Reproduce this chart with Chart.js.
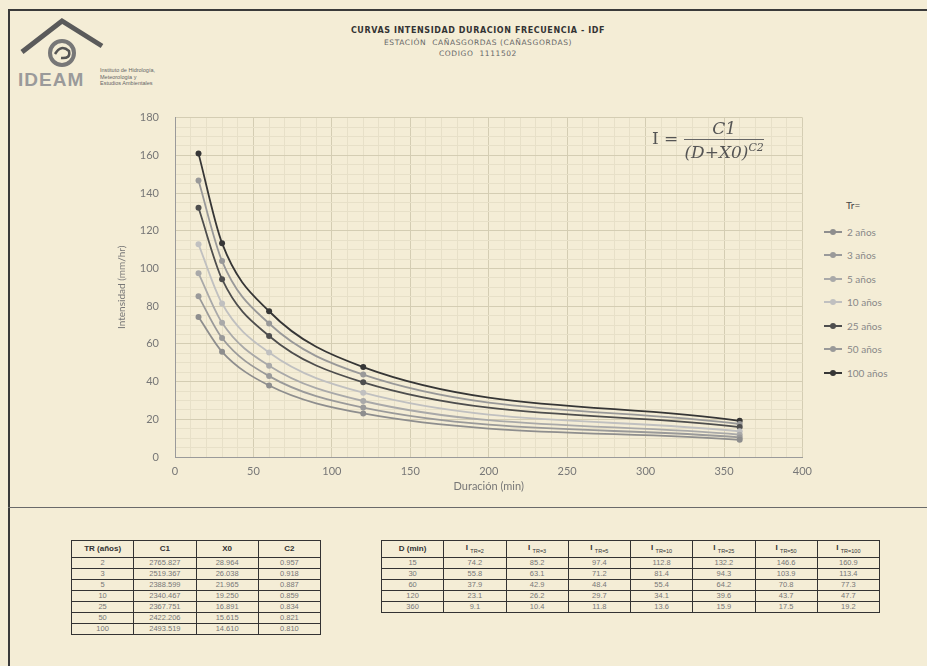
<!DOCTYPE html>
<html>
<head>
<meta charset="utf-8">
<script src="https://cdn.jsdelivr.net/npm/chart.js@4.4.1/dist/chart.umd.min.js"></script>
<style>
  body { margin: 0; width: 927px; height: 666px; background: #f4edd6; position: relative; overflow: hidden; font-family: "Liberation Sans", Arial, sans-serif; }
  .frame { position: absolute; left: 8px; top: 9px; width: 930px; height: 670px; border: 2px solid #3a3a3a; }
  .hline { position: absolute; left: 8px; top: 507px; width: 927px; height: 0; border-top: 1px solid #6a6a6a; }
  .title { position: absolute; left: 278px; width: 400px; text-align: center; color: #666; font-family: "DejaVu Sans", sans-serif; font-size: 7.5px; line-height: 11.5px; top: 25px; letter-spacing: 0.6px; }
  .title b { color: #333; font-size: 8px; }
  #chartBox { position: absolute; left: 100px; top: 95px; width: 720px; height: 415px; }
  .eq { position: absolute; left: 652px; top: 118px; font-family: "DejaVu Serif", serif; color: #555; font-size: 17px; }
  .eq .frac { display: inline-block; vertical-align: middle; text-align: center; margin-left: 6px; }
  .eq .num { display: block; border-bottom: 1px solid #666; padding: 0 8px 1px; font-style: italic; }
  .eq .den { display: block; font-style: italic; padding-top: 1px; }
  .legend { position: absolute; left: 824px; top: 196px; font-family: Lato, sans-serif; font-size: 10px; color: #888; }
  .legend .hd { color: #444; margin-left: 22px; height: 24px; line-height: 18px; }
  .legend .it { height: 23.5px; display: flex; align-items: center; }
  .legend .mk { position: relative; width: 18px; height: 8px; margin-right: 5px; }
  .legend .mk i { position: absolute; left: 0; top: 3px; width: 18px; height: 2px; }
  .legend .mk b { position: absolute; left: 6px; top: 1px; width: 6px; height: 6px; border-radius: 50%; }
  table { position: absolute; border-collapse: collapse; table-layout: fixed; font-size: 7.5px; color: #777; }
  td, th { border: 1px solid #333; text-align: center; padding: 0; height: 10px; line-height: 10px; }
  th { height: 16px; color: #333; font-weight: bold; font-size: 8px; }
  th sub { font-size: 5.5px; font-weight: normal; }
  #t1 { left: 71px; top: 540px; width: 250px; }
  #t2 { left: 381px; top: 540px; width: 499px; }
  .logo { position: absolute; left: 0; top: 12px; }
</style>
</head>
<body>
<div class="frame"></div>
<div class="hline"></div>

<svg class="logo" width="240" height="90">
  <path d="M22 40 L62 9 L102 34" fill="none" stroke="#5a5a5a" stroke-width="5"/>
  <circle cx="62" cy="41" r="12" fill="none" stroke="#777" stroke-width="4"/>
  <path d="M55 42 q6 -10 14 -3 q2 8 -8 7" fill="none" stroke="#555" stroke-width="2.5"/>
  <text x="18" y="74" font-family="Liberation Sans, Arial" font-size="19" fill="#9a9a9a" font-weight="bold" letter-spacing="1">IDEAM</text>
  <text x="100" y="60" font-family="Liberation Sans" font-size="5.5" fill="#666">Instituto de Hidrología,</text>
  <text x="100" y="66.5" font-family="Liberation Sans" font-size="5.5" fill="#666">Meteorología y</text>
  <text x="100" y="73" font-family="Liberation Sans" font-size="5.5" fill="#666">Estudios Ambientales</text>
</svg>

<div class="title">
  <b>CURVAS INTENSIDAD DURACION FRECUENCIA - IDF</b><br>
  ESTACIÓN&nbsp; CAÑASGORDAS (CAÑASGORDAS)<br>
  CODIGO&nbsp; 1111502
</div>

<div id="chartBox"><canvas id="idfChart" width="720" height="415"></canvas></div>

<div class="eq">I =<span class="frac"><span class="num">C1</span><span class="den">(D+X0)<sup style="font-size:11px">C2</sup></span></span></div>

<div class="legend" id="legend"></div>

<table id="t1"></table>
<table id="t2"></table>

<script>
// duraciones (min)
const durations = [15, 30, 60, 120, 360];
const returnPeriods = [2, 3, 5, 10, 25, 50, 100];

// intensidades (mm/hr) por periodo de retorno
const tr2 = [74.2, 55.8, 37.9, 23.1, 9.1];
const tr3 = [85.2, 63.1, 42.9, 26.2, 10.4];
const tr5 = [97.4, 71.2, 48.4, 29.7, 11.8];
const tr10 = [112.8, 81.4, 55.4, 34.1, 13.6];
const tr25 = [132.2, 94.3, 64.2, 39.6, 15.9];
const tr50 = [146.6, 103.9, 70.8, 43.7, 17.5];
const tr100 = [160.9, 113.4, 77.3, 47.7, 19.2];

// parametros de la ecuacion
const c1 = ["2765.827", "2519.367", "2388.599", "2340.467", "2367.751", "2422.206", "2493.519"];
const x0 = ["28.964", "26.038", "21.965", "19.250", "16.891", "15.615", "14.610"];
const c2 = ["0.957", "0.918", "0.887", "0.859", "0.834", "0.821", "0.810"];

const xTicks = [0, 50, 100, 150, 200, 250, 300, 350, 400];
const yTicks = [0, 20, 40, 60, 80, 100, 120, 140, 160, 180];

const seriesValues = [tr2, tr3, tr5, tr10, tr25, tr50, tr100];
const colors = ["#8e8e8e", "#9a9a9a", "#a9a9a9", "#c0c0c0", "#4e4e4e", "#999999", "#363636"];

const datasets = seriesValues.map((vals, i) => ({
  label: returnPeriods[i] + " años",
  data: durations.map((d, j) => ({ x: d, y: vals[j] })),
  borderColor: colors[i],
  backgroundColor: colors[i],
  borderWidth: 1.8,
  pointRadius: 3,
  pointBorderWidth: 0,
  cubicInterpolationMode: "monotone",
  tension: 0.4,
}));

new Chart(document.getElementById("idfChart"), {
  type: "line",
  data: { datasets: datasets },
  options: {
    responsive: false,
    animation: false,
    events: [],
    layout: { padding: { top: 16, right: 13, left: 16, bottom: 13 } },
    plugins: { legend: { display: false }, tooltip: { enabled: false } },
    scales: {
      x: {
        type: "linear", min: 0, max: 400,
        afterBuildTicks: (s) => {
          const t = [];
          for (let v = 0; v <= 400; v += 10) t.push({ value: v });
          s.ticks = t;
        },
        afterFit: (s) => { s.height = 40; },
        ticks: {
          autoSkip: false, maxRotation: 0, padding: 8, color: "#777",
          font: { family: "Lato", size: 11 },
          callback: (v) => (xTicks.includes(v) ? v : ""),
        },
        grid: {
          drawTicks: false,
          color: (c) => (c.tick && c.tick.value % 50 === 0 ? "#d4cdb3" : "#e7e0c8"),
        },
        border: { color: "#9a9a9a" },
        title: { display: true, text: "Duración (min)", color: "#777", padding: { top: 2 }, font: { family: "Lato", size: 11 } },
      },
      y: {
        min: 0, max: 180,
        afterBuildTicks: (s) => {
          const t = [];
          for (let v = 0; v <= 180; v += 5) t.push({ value: v });
          s.ticks = t;
        },
        afterFit: (s) => { s.width = 59; },
        ticks: {
          autoSkip: false, padding: 16, color: "#777",
          font: { family: "Lato", size: 11 },
          callback: (v) => (yTicks.includes(v) ? v : ""),
        },
        grid: {
          drawTicks: false,
          color: (c) => (c.tick && c.tick.value % 20 === 0 ? "#d4cdb3" : "#e7e0c8"),
        },
        border: { color: "#9a9a9a" },
        title: { display: true, text: "Intensidad (mm/hr)", color: "#777", padding: 0, font: { family: "Lato", size: 10 } },
      },
    },
  },
});

// leyenda
const legend = document.getElementById("legend");
legend.innerHTML = '<div class="hd">Tr=</div>' + returnPeriods.map((tr, i) =>
  `<div class="it"><span class="mk"><i style="background:${colors[i]}"></i><b style="background:${colors[i]}"></b></span>${tr} años</div>`
).join("");

// tablas
let h1 = "<tr><th>TR (años)</th><th>C1</th><th>X0</th><th>C2</th></tr>";
returnPeriods.forEach((tr, i) => {
  h1 += `<tr><td>${tr}</td><td>${c1[i]}</td><td>${x0[i]}</td><td>${c2[i]}</td></tr>`;
});
document.getElementById("t1").innerHTML = h1;

let h2 = "<tr><th>D (min)</th>" + returnPeriods.map((tr) => `<th>I <sub>TR=${tr}</sub></th>`).join("") + "</tr>";
durations.forEach((d, j) => {
  h2 += `<tr><td>${d}</td>` + seriesValues.map((s) => `<td>${s[j].toFixed(1)}</td>`).join("") + "</tr>";
});
document.getElementById("t2").innerHTML = h2;
</script>
</body>
</html>
